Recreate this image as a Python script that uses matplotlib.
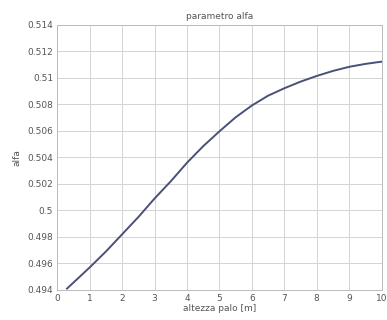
import matplotlib
matplotlib.use('Agg')
import matplotlib.pyplot as plt
import numpy as np

# curve
altezza = [0.3, 1, 1.5, 2, 2.5, 3, 3.5, 4, 4.5, 5, 5.5, 6, 6.5, 7, 7.5, 8, 8.5, 9, 9.5, 10]
alfa = [0.4941, 0.4957, 0.4969, 0.4982, 0.4995, 0.5009, 0.5022, 0.5036, 0.50485,
        0.50597, 0.50703, 0.50792, 0.50866, 0.50922, 0.50972, 0.51015, 0.51053,
        0.51084, 0.51106, 0.51123]

xticks = np.arange(0, 11, 1)
yticks = [0.494, 0.496, 0.498, 0.5, 0.502, 0.504, 0.506, 0.508, 0.51, 0.512, 0.514]
ylabels = ['0.494', '0.496', '0.498', '0.5', '0.502', '0.504', '0.506', '0.508', '0.51', '0.512', '0.514']

txt = '#555555'
fig = plt.figure(figsize=(3.87, 3.2), dpi=100)
ax = fig.add_axes([0.148, 0.094, 0.838, 0.828])

ax.plot(altezza, alfa, color='#4a5078', lw=1.4)

ax.set_xlim(0, 10)
ax.set_ylim(0.494, 0.514)
ax.set_xticks(xticks)
ax.set_yticks(yticks)
ax.set_yticklabels(ylabels)
ax.grid(True, color='#d4d4d4', lw=0.7)
ax.set_axisbelow(True)
for s in ax.spines.values():
    s.set_color('#bbbbbb')
    s.set_linewidth(0.7)
ax.tick_params(length=0, labelsize=6.5, colors=txt, pad=3)

ax.set_title('parametro alfa', fontsize=6.5, color=txt, pad=4)
ax.set_xlabel('altezza palo [m]', fontsize=6.5, color=txt, labelpad=1)
ax.set_ylabel('alfa', fontsize=6.5, color=txt, labelpad=4)

fig.savefig('out.png', dpi=100)
